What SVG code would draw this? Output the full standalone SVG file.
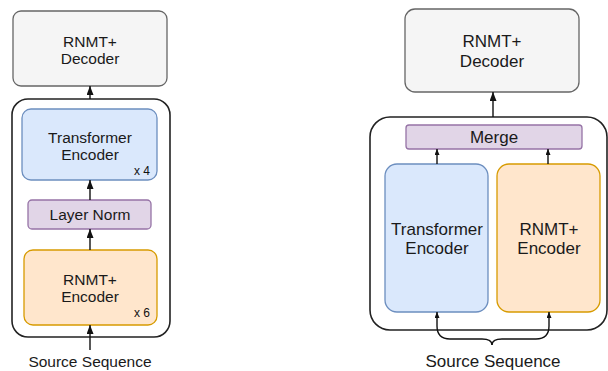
<svg xmlns="http://www.w3.org/2000/svg" width="608" height="371" viewBox="0 0 608 371">
<defs>
<style>
text{font-family:"Liberation Sans",Arial,sans-serif;fill:#1a1a1a;text-anchor:middle}
.l{font-size:15.5px}
.r{font-size:17px}
.s{font-size:12px;text-anchor:end;fill:#111}
.gray{fill:#f5f5f5;stroke:#666;stroke-width:1.3}
.blue{fill:#dae8fc;stroke:#6c8ebf;stroke-width:1.3}
.orange{fill:#ffe6cc;stroke:#d79b00;stroke-width:1.3}
.purple{fill:#e1d5e7;stroke:#9673a6;stroke-width:1.3}
.cont{fill:#fff;stroke:#222;stroke-width:1.6}
.edge{fill:none;stroke:#111;stroke-width:1.4}
</style>
<marker id="ah" viewBox="0 0 10 10" refX="10" refY="5" markerWidth="9" markerHeight="7" markerUnits="userSpaceOnUse" orient="auto" preserveAspectRatio="none"><path d="M0,0 L10,5 L0,10 z" fill="#111"/></marker>
<marker id="ahs" viewBox="0 0 10 10" refX="10" refY="5" markerWidth="6" markerHeight="5" markerUnits="userSpaceOnUse" orient="auto" preserveAspectRatio="none"><path d="M0,0 L10,5 L0,10 z" fill="#111"/></marker>
</defs>

<g id="left-container"><rect class="cont" x="12" y="99" width="158" height="238" rx="16"/></g>
<g id="right-container"><rect class="cont" x="370" y="117" width="237" height="213" rx="20"/></g>

<g id="left-decoder">
<rect class="gray" x="13" y="11" width="154" height="75" rx="8"/>
<text class="l" x="90" y="47">RNMT+</text>
<text class="l" x="90" y="64">Decoder</text>
</g>
<g id="left-transformer">
<rect class="blue" x="22" y="109" width="135" height="71" rx="9"/>
<text class="l" x="90" y="143">Transformer</text>
<text class="l" x="90" y="160">Encoder</text>
<text class="s" x="150" y="175">x 4</text>
</g>
<g id="left-layernorm">
<rect class="purple" x="28" y="200" width="123" height="29" rx="4"/>
<text class="l" x="90" y="220">Layer Norm</text>
</g>
<g id="left-rnmt">
<rect class="orange" x="24" y="250" width="133" height="75" rx="9"/>
<text class="l" x="90" y="285">RNMT+</text>
<text class="l" x="90" y="302">Encoder</text>
<text class="s" x="150" y="317">x 6</text>
</g>
<g id="left-source"><text class="l" x="90" y="367">Source Sequence</text></g>

<g id="right-decoder">
<rect class="gray" x="405" y="9" width="174" height="83" rx="10"/>
<text class="r" x="492" y="47">RNMT+</text>
<text class="r" x="492" y="67">Decoder</text>
</g>
<g id="right-merge">
<rect class="purple" x="406" y="125" width="176" height="24" rx="3"/>
<text class="r" x="494" y="143">Merge</text>
</g>
<g id="right-transformer">
<rect class="blue" x="385" y="164" width="103" height="148" rx="12"/>
<text class="r" x="437" y="235">Transformer</text>
<text class="r" x="437" y="254">Encoder</text>
</g>
<g id="right-rnmt">
<rect class="orange" x="497" y="164" width="103" height="148" rx="12"/>
<text class="r" x="549" y="235">RNMT+</text>
<text class="r" x="549" y="254">Encoder</text>
</g>
<g id="right-source"><text class="r" x="493" y="367">Source Sequence</text></g>

<g id="connectors">
<line class="edge" x1="90" y1="99" x2="90" y2="86" marker-end="url(#ah)"/>
<line class="edge" x1="90" y1="200" x2="90" y2="180" marker-end="url(#ah)"/>
<line class="edge" x1="90" y1="250" x2="90" y2="229" marker-end="url(#ah)"/>
<line class="edge" x1="90" y1="350" x2="90" y2="325" marker-end="url(#ah)"/>
<line class="edge" x1="493" y1="117" x2="493" y2="92" marker-end="url(#ah)"/>
<line class="edge" x1="437" y1="164" x2="437" y2="149" marker-end="url(#ahs)"/>
<line class="edge" x1="548" y1="164" x2="548" y2="149" marker-end="url(#ahs)"/>
<path class="edge" d="M492,345 Q492,339 482,339 L450,339 Q437,339 437,326 L437,312" marker-end="url(#ahs)"/>
<path class="edge" d="M492,345 Q492,339 502,339 L536,339 Q549,339 549,326 L549,312" marker-end="url(#ahs)"/>
</g>
</svg>
